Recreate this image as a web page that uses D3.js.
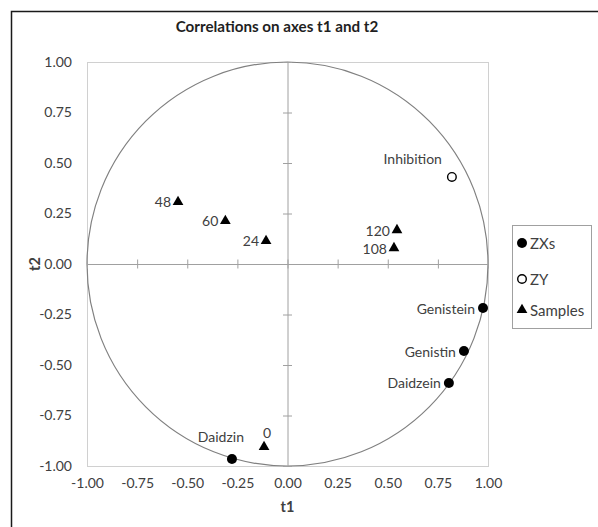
<!DOCTYPE html>
<html>
<head>
<meta charset="utf-8">
<script src="https://cdn.jsdelivr.net/npm/d3@7"></script>
<style>
  body { margin: 0; background: #fff; }
  text { font-family: Lato, "Open Sans", sans-serif; }
</style>
</head>
<body>
<script>
// correlation circle, t1 / t2

var zxNames = ["Daidzin", "Daidzein", "Genistin", "Genistein"];
var zxT1 = [-0.277, 0.805, 0.88, 0.975];
var zxT2 = [-0.965, -0.589, -0.431, -0.218];

var zyNames = ["Inhibition"];
var zyT1 = [0.82];
var zyT2 = [0.431];

var sampleNames = ["0", "24", "48", "60", "108", "120"];
var sampleT1 = [-0.117, -0.107, -0.546, -0.31, 0.531, 0.546];
var sampleT2 = [-0.906, 0.114, 0.307, 0.213, 0.079, 0.168];

var tickVals = [-1, -0.75, -0.5, -0.25, 0, 0.25, 0.5, 0.75, 1];
var legendNames = ["ZXs", "ZY", "Samples"];

var width = 598, height = 527;
var plot = { left: 87, right: 488, top: 62, bottom: 466 };

var xScale = d3.scaleLinear().domain([-1, 1]).range([plot.left, plot.right]);
var yScale = d3.scaleLinear().domain([-1, 1]).range([plot.bottom, plot.top]);
var fmt = function(d) { return d.toFixed(2); };

var svg = d3.select("body").append("svg")
  .attr("width", width)
  .attr("height", height);

// outer frame (runs off the right and bottom)
svg.append("rect")
  .attr("x", 11.5).attr("y", 11.5)
  .attr("width", 700).attr("height", 700)
  .attr("fill", "none")
  .attr("stroke", "#1a1a1a")
  .attr("stroke-width", 1.5);

svg.append("text")
  .attr("x", 277).attr("y", 26)
  .attr("text-anchor", "middle")
  .attr("dominant-baseline", "central")
  .style("font-size", "15.2px")
  .style("font-weight", "bold")
  .style("fill", "#1f1f1f")
  .text("Correlations on axes t1 and t2");

// plot area border
svg.append("rect")
  .attr("x", plot.left + 0.5).attr("y", plot.top + 0.5)
  .attr("width", plot.right - plot.left).attr("height", plot.bottom - plot.top)
  .attr("fill", "none")
  .attr("stroke", "#d0d0d0");

// circle of radius 1
svg.append("ellipse")
  .attr("cx", xScale(0)).attr("cy", yScale(0))
  .attr("rx", xScale(1) - xScale(0))
  .attr("ry", yScale(0) - yScale(1))
  .attr("fill", "none")
  .attr("stroke", "#808080")
  .attr("stroke-width", 1.2);

// axes through the origin, with crossing ticks
var xMid = svg.append("g")
  .attr("transform", `translate(0,${yScale(0)})`)
  .call(d3.axisBottom(xScale).tickValues(tickVals).tickFormat("").tickSizeOuter(0));
xMid.selectAll(".tick line").attr("y1", -4.5).attr("y2", 4.5);

var yMid = svg.append("g")
  .attr("transform", `translate(${xScale(0)},0)`)
  .call(d3.axisLeft(yScale).tickValues(tickVals).tickFormat("").tickSizeOuter(0));
yMid.selectAll(".tick line").attr("x1", -4.5).attr("x2", 4.5);

svg.selectAll(".domain, .tick line").attr("stroke", "#a0a0a0");

// tick labels on the left and bottom
var yLab = svg.append("g")
  .attr("transform", `translate(${plot.left},0)`)
  .call(d3.axisLeft(yScale).tickValues(tickVals).tickFormat(fmt).tickSize(0).tickPadding(15));
var xLab = svg.append("g")
  .attr("transform", `translate(0,${plot.bottom})`)
  .call(d3.axisBottom(xScale).tickValues(tickVals).tickFormat(fmt).tickSize(0).tickPadding(12));
[yLab, xLab].forEach(function(g) {
  g.select(".domain").remove();
  g.selectAll("text").style("font-size", "14px").style("fill", "#404040").style("font-family", "Lato, sans-serif");
});

svg.append("text")
  .attr("x", xScale(0)).attr("y", 506)
  .attr("text-anchor", "middle").attr("dominant-baseline", "central")
  .style("font-size", "14.5px").style("font-weight", "bold").style("fill", "#404040")
  .text("t1");
svg.append("text")
  .attr("transform", "translate(34," + yScale(0) + ")rotate(-90)")
  .attr("text-anchor", "middle").attr("dominant-baseline", "central")
  .style("font-size", "14.5px").style("font-weight", "bold").style("fill", "#404040")
  .text("t2");

// label placement (offsets from the marker)
var labelPos = {
  "Daidzin": { dx: 12, dy: -22, anchor: "end" },
  "Inhibition": { dx: -10, dy: -18, anchor: "end" },
  "0": { dx: 3, dy: -15, anchor: "middle" }
};
function addLabels(names, t1, t2, gap) {
  svg.append("g").selectAll("text")
    .data(names)
    .join("text")
    .each(function(d, i) {
      var p = labelPos[d] || { dx: -gap, dy: 0, anchor: "end" };
      d3.select(this)
        .attr("x", xScale(t1[i]) + p.dx)
        .attr("y", yScale(t2[i]) + p.dy)
        .attr("text-anchor", p.anchor);
    })
    .attr("dominant-baseline", "central")
    .style("font-size", "14px")
    .style("fill", "#404040")
    .text(function(d) { return d; });
}

var tri = d3.symbol().type(d3.symbolTriangle).size(50);

// ZXs
svg.append("g").selectAll("circle")
  .data(zxNames)
  .join("circle")
  .attr("cx", function(d, i) { return xScale(zxT1[i]); })
  .attr("cy", function(d, i) { return yScale(zxT2[i]); })
  .attr("r", 5)
  .attr("fill", "#000");
addLabels(zxNames, zxT1, zxT2, 8);

// ZY
svg.append("g").selectAll("circle")
  .data(zyNames)
  .join("circle")
  .attr("cx", function(d, i) { return xScale(zyT1[i]); })
  .attr("cy", function(d, i) { return yScale(zyT2[i]); })
  .attr("r", 4.3)
  .attr("fill", "#fff")
  .attr("stroke", "#000")
  .attr("stroke-width", 1.4);
addLabels(zyNames, zyT1, zyT2, 9);

// Samples
svg.append("g").selectAll("path")
  .data(sampleNames)
  .join("path")
  .attr("d", tri)
  .attr("transform", function(d, i) { return `translate(${xScale(sampleT1[i])},${yScale(sampleT2[i])})`; })
  .attr("fill", "#000");
addLabels(sampleNames, sampleT1, sampleT2, 7);

// legend
var legend = svg.append("g").attr("transform", "translate(512,225)");
legend.append("rect")
  .attr("x", 0.5).attr("y", 0.5)
  .attr("width", 79).attr("height", 103)
  .attr("fill", "#fff")
  .attr("stroke", "#a0a0a0");
var rowY = [18, 54, 85];
legendNames.forEach(function(name, i) {
  var g = legend.append("g").attr("transform", `translate(10,${rowY[i]})`);
  if (i === 0) g.append("circle").attr("r", 5).attr("fill", "#000");
  if (i === 1) g.append("circle").attr("r", 4.3).attr("fill", "#fff").attr("stroke", "#000").attr("stroke-width", 1.4);
  if (i === 2) g.append("path").attr("d", tri).attr("fill", "#000");
  g.append("text")
    .attr("x", 8).attr("dominant-baseline", "central")
    .style("font-size", "15px").style("fill", "#404040")
    .text(name);
});
</script>
</body>
</html>
